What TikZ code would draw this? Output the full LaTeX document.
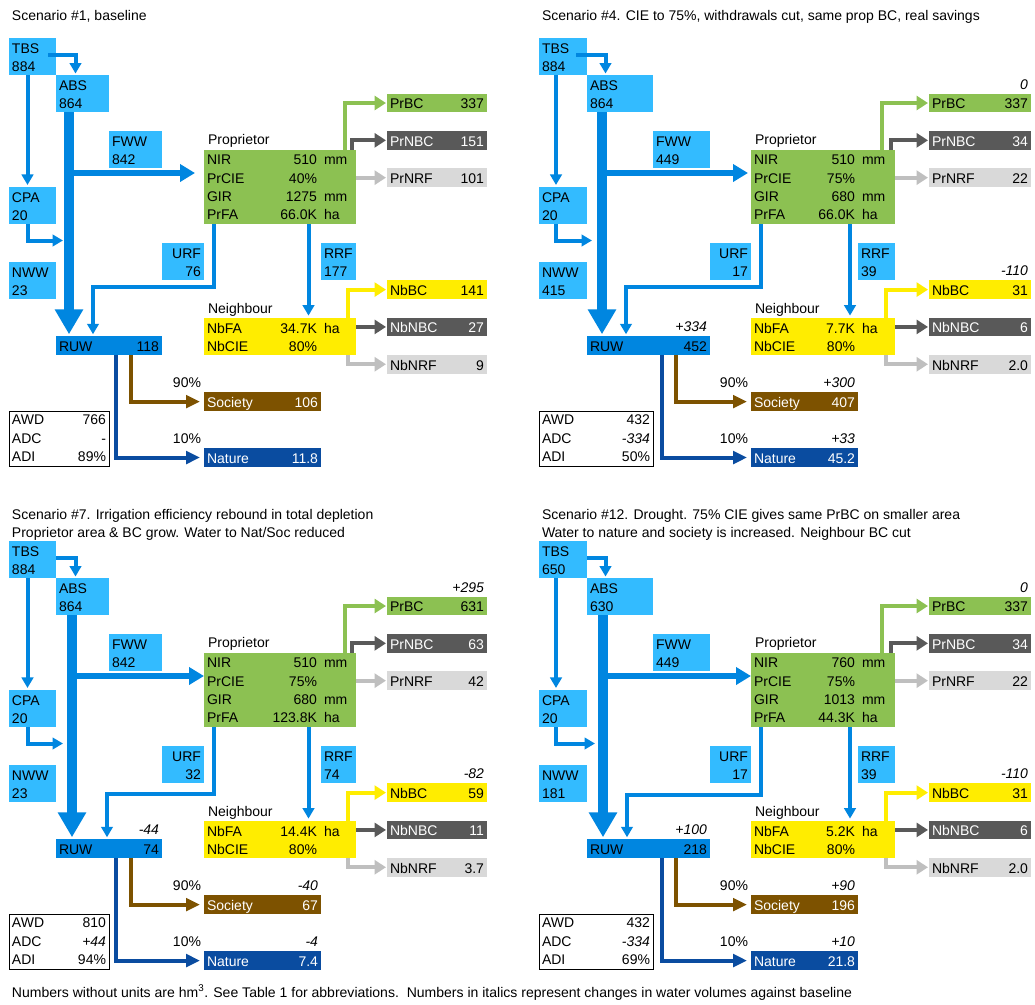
\documentclass[tikz,border=0pt]{standalone}
\usepackage{fontspec}
\setmainfont{Liberation Sans}
\usetikzlibrary{arrows.meta,calc,fit}
\definecolor{lblue}{RGB}{51,187,255}
\definecolor{dblue}{RGB}{0,134,224}
\definecolor{pgreen}{RGB}{140,193,82}
\definecolor{dgray}{RGB}{89,89,89}
\definecolor{lgray}{RGB}{217,217,217}
\definecolor{lgrayA}{RGB}{191,191,191}
\definecolor{nyellow}{RGB}{255,237,0}
\definecolor{socbrown}{RGB}{125,82,0}
\definecolor{natblue}{RGB}{10,76,160}
\newcommand\fsz{\fontsize{14}{16.8}\selectfont}
\newcount\lblno
\def\yo{0}
\pgfmathdeclarefunction{ry}{1}{\pgfmathparse{37.7+18.66*#1+\yo}}
\tikzset{
 bxs/.style={inner sep=0pt,outer sep=0pt},
 txt/.style={inner sep=0pt,outer sep=0pt,font=\fsz},
 thinflow/.style={line width=4pt,draw=dblue,-{Triangle[length=10.5pt,width=11.5pt]}},
 fwwflow/.style={line width=6pt,draw=dblue,-{Triangle[length=15pt,width=17pt]}},
 trunkflow/.style={line width=9.5pt,draw=dblue,-{Triangle[length=25pt,width=27pt]}},
 outflow/.style={line width=4pt,-{Triangle[length=11.5pt,width=14pt]}},
 socflow/.style={line width=4pt,-{Triangle[length=14pt,width=12.5pt]}},
}
\newcommand\bx[6]{\node[bxs,#6,fit={({#2},{ry(#3)}) ({#4},{ry(#5)})}] (#1) {};}
\newcommand\TxtAt[6][]{\global\advance\lblno by 1\relax
  \node[txt,anchor=#2,#1] (lbl\the\lblno) at ($(#3)+(#4,#5)$) {#6};}
\newcommand\TxtL[4][]{\TxtAt[#1]{base west}{#2.north west}{3}{#3}{#4}}
\newcommand\TxtR[4][]{\TxtAt[#1]{base east}{#2.north east}{-3}{#3}{#4}}
\newcommand\layoutL{\def\xA{9}\def\xB{56}\def\xC{109}\def\xE{162}\def\xF{204}\def\xG{321}\def\xH{356}\def\xI{387}\def\xJ{487}%
 \def\xTA{75.5}\def\xTC{27.5}\def\xU{214}\def\xR{308.5}\def\xS{130.5}\def\xN{116}\def\xGr{344.5}\def\xDk{351.5}\def\xY{348}\def\xPv{113}\def\xPu{120}}
\newcommand\layoutR{\def\xA{539}\def\xB{587}\def\xC{653}\def\xE{710}\def\xF{751}\def\xG{858}\def\xH{895}\def\xI{929}\def\xJ{1031}%
 \def\xTA{605.5}\def\xTC{556}\def\xU{760.5}\def\xR{850}\def\xS{675.5}\def\xN{661.5}\def\xGr{882}\def\xDk{891}\def\xY{886}\def\xPv{104}\def\xPu{111}}
\newcommand\chg[2]{\ifx#2\empty\else\TxtR[font=\fsz\itshape]{#1}{-4.5}{#2}\fi}
\newcommand\drawpanel{%
 % boxes
 \bx{\pfx tbs}{\xA}{0}{\xB}{2}{fill=lblue}
 \bx{\pfx abs}{\xB}{2}{\xC}{4}{fill=lblue}
 \bx{\pfx fww}{\xC}{5}{\xE}{7}{fill=lblue}
 \bx{\pfx cpa}{\xA}{8}{\xB}{10}{fill=lblue}
 \bx{\pfx urf}{\xE}{11}{\xF}{13}{fill=lblue}
 \bx{\pfx rrf}{\xG}{11}{\xH}{13}{fill=lblue}
 \bx{\pfx nww}{\xA}{12}{\xB}{14}{fill=lblue}
 \bx{\pfx ruw}{\xB}{16}{\xE}{17}{fill=dblue}
 \bx{\pfx prop}{\xF}{6}{\xH}{10}{fill=pgreen}
 \bx{\pfx nb}{\xF}{15}{\xH}{17}{fill=nyellow}
 \bx{\pfx prbc}{\xI}{3}{\xJ}{4}{fill=pgreen}
 \bx{\pfx prnbc}{\xI}{5}{\xJ}{6}{fill=dgray}
 \bx{\pfx prnrf}{\xI}{7}{\xJ}{8}{fill=lgray}
 \bx{\pfx nbbc}{\xI}{13}{\xJ}{14}{fill=nyellow}
 \bx{\pfx nbnbc}{\xI}{15}{\xJ}{16}{fill=dgray}
 \bx{\pfx nbnrf}{\xI}{17}{\xJ}{18}{fill=lgray}
 \bx{\pfx soc}{\xF}{19}{\xG}{20}{fill=socbrown}
 \bx{\pfx nat}{\xF}{22}{\xG}{23}{fill=natblue}
 \bx{\pfx awd}{\xA}{20}{\xC}{23}{fill=white,draw=black,line width=0.8pt}
 % bend coordinates
 \coordinate (\pfx kTA) at ({\xTA},{\yo+55});
 \coordinate (\pfx kTC) at ({\xTC},{\yo+240.5});
 \coordinate (\pfx kCe) at ({\xCe},{\yo+240.5});
 \coordinate (\pfx kTr) at ({\xTr},{\yo+173});
 \coordinate (\pfx kU) at ({\xU},{\yo+\yU});
 \coordinate (\pfx kUl) at ({\xUl},{\yo+\yU});
 \coordinate (\pfx kR) at ({\xR},{\yo});
 \coordinate (\pfx kS) at ({\xS},{\yo});
 \coordinate (\pfx kN) at ({\xN},{\yo});
 \coordinate (\pfx kG) at ({\xGr},{\yo});
 \coordinate (\pfx kD) at ({\xDk},{\yo});
 \coordinate (\pfx kY) at ({\xY},{\yo});
 % connectors
 \draw[thinflow,shorten >=1.5pt] ([xshift={-\tbsin pt}]\pfx tbs.east |- \pfx kTA) -| (\pfx abs.north -| \pfx kTA);
 \draw[thinflow,shorten >=2pt] (\pfx tbs.south -| \pfx kTC) -- (\pfx cpa.north -| \pfx kTC);
 \draw[thinflow] (\pfx cpa.south -| \pfx kTC) |- (\pfx kCe);
 \draw[trunkflow,shorten >=2pt] (\pfx abs.south -| \pfx kTr) -- (\pfx ruw.north -| \pfx kTr);
 \draw[fwwflow,shorten >=\fwwgap] (\pfx kTr) -- (\pfx prop.west |- \pfx kTr);
 \draw[thinflow,shorten >=2pt] (\pfx prop.south -| \pfx kU) |- (\pfx kUl) -- (\pfx ruw.north -| \pfx kUl);
 \draw[thinflow,shorten >=2pt] (\pfx prop.south -| \pfx kR) -- (\pfx nb.north -| \pfx kR);
 \draw[outflow,draw=pgreen,shorten >=1pt] (\pfx prop.north -| \pfx kG) |- (\pfx prbc.west);
 \draw[outflow,draw=dgray,shorten >=1pt] (\pfx prop.north -| \pfx kD) |- (\pfx prnbc.west);
 \draw[outflow,draw=lgrayA,shorten >=1pt] (\pfx prop.east |- \pfx prnrf.west) -- (\pfx prnrf.west);
 \draw[outflow,draw=nyellow,shorten >=1pt] (\pfx nb.north -| \pfx kY) |- (\pfx nbbc.west);
 \draw[outflow,draw=dgray,shorten >=1pt] (\pfx nb.east |- \pfx nbnbc.west) -- (\pfx nbnbc.west);
 \draw[outflow,draw=lgrayA,shorten >=1pt] (\pfx nb.south -| \pfx kY) |- (\pfx nbnrf.west);
 \draw[socflow,draw=socbrown,shorten >=4pt] (\pfx ruw.south -| \pfx kS) |- (\pfx soc.west);
 \draw[socflow,draw=natblue,shorten >=4pt] (\pfx ruw.south -| \pfx kN) |- (\pfx nat.west);
 % titles
 \node[txt,anchor=base west] (\pfx titleA) at ({\xA+3},{\yo+\tyA}) {\vTitleA};
 \ifx\vTitleB\empty\else\node[txt,anchor=base west] (\pfx titleB) at ({\xA+3},{\yo+34}) {\vTitleB};\fi
 % texts
 \TxtL{\pfx tbs}{15.5}{TBS}\TxtL{\pfx tbs}{33.5}{\vTBS}
 \TxtL{\pfx abs}{15.5}{ABS}\TxtL{\pfx abs}{33.5}{\vABS}
 \TxtL{\pfx fww}{15.5}{FWW}\TxtL{\pfx fww}{33.5}{\vFWW}
 \TxtL{\pfx cpa}{15.5}{CPA}\TxtL{\pfx cpa}{33.5}{\vCPA}
 \TxtL{\pfx nww}{15.5}{NWW}\TxtL{\pfx nww}{33.5}{\vNWW}
 \TxtR{\pfx urf}{15.5}{URF}\TxtR{\pfx urf}{33.5}{\vURF}
 \TxtL{\pfx rrf}{15.5}{RRF}\TxtL{\pfx rrf}{33.5}{\vRRF}
 \TxtL{\pfx ruw}{15.2}{RUW}\TxtR{\pfx ruw}{15.2}{\vRUW}
 \TxtAt{base west}{\pfx prop.north west}{4}{-4.8}{Proprietor}
 \TxtL{\pfx prop}{15.3}{NIR}\TxtL{\pfx prop}{33.5}{PrCIE}\TxtL{\pfx prop}{51.7}{GIR}\TxtL{\pfx prop}{69.9}{PrFA}
 \TxtAt{base east}{\pfx prop.north west}{\xPv}{15.3}{\vNIR}\TxtAt{base west}{\pfx prop.north west}{\xPu}{15.3}{mm}
 \TxtAt{base east}{\pfx prop.north west}{\xPv}{33.5}{\vPrCIE}
 \TxtAt{base east}{\pfx prop.north west}{\xPv}{51.7}{\vGIR}\TxtAt{base west}{\pfx prop.north west}{\xPu}{51.7}{mm}
 \TxtAt{base east}{\pfx prop.north west}{\xPv}{69.9}{\vPrFA}\TxtAt{base west}{\pfx prop.north west}{\xPu}{69.9}{ha}
 \TxtAt{base west}{\pfx nb.north west}{4}{-4.3}{Neighbour}
 \TxtL{\pfx nb}{15.4}{NbFA}\TxtL{\pfx nb}{33.6}{NbCIE}
 \TxtAt{base east}{\pfx nb.north west}{\xPv}{15.4}{\vNbFA}\TxtAt{base west}{\pfx nb.north west}{\xPu}{15.4}{ha}
 \TxtAt{base east}{\pfx nb.north west}{\xPv}{33.6}{\vNbCIE}
 \TxtL{\pfx prbc}{15.2}{PrBC}\TxtR{\pfx prbc}{15.2}{\vPrBC}
 \TxtL[text=white]{\pfx prnbc}{15.2}{PrNBC}\TxtR[text=white]{\pfx prnbc}{15.2}{\vPrNBC}
 \TxtL{\pfx prnrf}{15.2}{PrNRF}\TxtR{\pfx prnrf}{15.2}{\vPrNRF}
 \TxtL{\pfx nbbc}{15.2}{NbBC}\TxtR{\pfx nbbc}{15.2}{\vNbBC}
 \TxtL[text=white]{\pfx nbnbc}{15.2}{NbNBC}\TxtR[text=white]{\pfx nbnbc}{15.2}{\vNbNBC}
 \TxtL{\pfx nbnrf}{15.2}{NbNRF}\TxtR{\pfx nbnrf}{15.2}{\vNbNRF}
 \TxtL[text=white]{\pfx soc}{15.2}{Society}\TxtR[text=white]{\pfx soc}{15.2}{\vSoc}
 \TxtL[text=white]{\pfx nat}{15.2}{Nature}\TxtR[text=white]{\pfx nat}{15.2}{\vNat}
 \TxtAt{base east}{\pfx soc.north west}{-3}{-4.5}{90\%}
 \TxtAt{base east}{\pfx nat.north west}{-3}{-4.5}{10\%}
 \TxtL{\pfx awd}{13.6}{AWD}\TxtR{\pfx awd}{13.6}{\vAWD}
 \TxtL{\pfx awd}{32.2}{ADC}\TxtR{\pfx awd}{32.2}{\vADC}
 \TxtL{\pfx awd}{50.8}{ADI}\TxtR{\pfx awd}{50.8}{\vADI}
 \chg{\pfx prbc}{\cPrBC}\chg{\pfx nbbc}{\cNbBC}\chg{\pfx ruw}{\cRUW}\chg{\pfx soc}{\cSoc}\chg{\pfx nat}{\cNat}
}
\begin{document}
\begin{tikzpicture}[x=1pt,y=-1pt]
\useasboundingbox (0,0) rectangle (1035,1004);
\fill[white] (0,0) rectangle (1035,1004);
% ---------- Scenario 1
\def\pfx{a}\def\yo{0}\layoutL\def\xTr{69}\def\xUl{93}\def\xCe{63}\def\tbsin{8}\def\fwwgap{9pt}\def\yU{287}\def\tyA{20}
\def\vTitleA{Scenario \#1, baseline}\def\vTitleB{}
\def\vTBS{884}\def\vABS{864}\def\vFWW{842}\def\vCPA{20}\def\vNWW{23}\def\vURF{76}\def\vRRF{177}\def\vRUW{118}
\def\vNIR{510}\def\vPrCIE{40\%}\def\vGIR{1275}\def\vPrFA{66.0K}
\def\vPrBC{337}\def\vPrNBC{151}\def\vPrNRF{101}
\def\vNbFA{34.7K}\def\vNbCIE{80\%}\def\vNbBC{141}\def\vNbNBC{27}\def\vNbNRF{9}
\def\vSoc{106}\def\vNat{11.8}\def\vAWD{766}\def\vADC{-}\def\vADI{89\%}
\def\cPrBC{}\def\cNbBC{}\def\cRUW{}\def\cSoc{}\def\cNat{}
\drawpanel
% ---------- Scenario 4
\def\pfx{b}\def\yo{0}\layoutR\def\xTr{602}\def\xUl{626}\def\xCe{592}\def\tbsin{11}\def\fwwgap{3pt}\def\yU{287}\def\tyA{20}
\def\vTitleA{Scenario \#4. CIE to 75\%, withdrawals cut, same prop BC, real savings}\def\vTitleB{}
\def\vTBS{884}\def\vABS{864}\def\vFWW{449}\def\vCPA{20}\def\vNWW{415}\def\vURF{17}\def\vRRF{39}\def\vRUW{452}
\def\vNIR{510}\def\vPrCIE{75\%}\def\vGIR{680}\def\vPrFA{66.0K}
\def\vPrBC{337}\def\vPrNBC{34}\def\vPrNRF{22}
\def\vNbFA{7.7K}\def\vNbCIE{80\%}\def\vNbBC{31}\def\vNbNBC{6}\def\vNbNRF{2.0}
\def\vSoc{407}\def\vNat{45.2}\def\vAWD{432}\def\vADC{\textit{-334}}\def\vADI{50\%}
\def\cPrBC{0}\def\cNbBC{-110}\def\cRUW{+334}\def\cSoc{+300}\def\cNat{+33}
\drawpanel
% ---------- Scenario 7
\def\pfx{c}\def\yo{503}\layoutL\def\xTr{72}\def\xUl{107}\def\xCe{63}\def\tbsin{0}\def\fwwgap{0pt}\def\yU{291}\def\tyA{16}
\def\vTitleA{Scenario \#7. Irrigation efficiency rebound in total depletion}\def\vTitleB{Proprietor area \& BC grow. Water to Nat/Soc reduced}
\def\vTBS{884}\def\vABS{864}\def\vFWW{842}\def\vCPA{20}\def\vNWW{23}\def\vURF{32}\def\vRRF{74}\def\vRUW{74}
\def\vNIR{510}\def\vPrCIE{75\%}\def\vGIR{680}\def\vPrFA{123.8K}
\def\vPrBC{631}\def\vPrNBC{63}\def\vPrNRF{42}
\def\vNbFA{14.4K}\def\vNbCIE{80\%}\def\vNbBC{59}\def\vNbNBC{11}\def\vNbNRF{3.7}
\def\vSoc{67}\def\vNat{7.4}\def\vAWD{810}\def\vADC{\textit{+44}}\def\vADI{94\%}
\def\cPrBC{+295}\def\cNbBC{-82}\def\cRUW{-44}\def\cSoc{-40}\def\cNat{-4}
\drawpanel
% ---------- Scenario 12
\def\pfx{d}\def\yo{503}\layoutR\def\xTr{603}\def\xUl{627}\def\xCe{595}\def\tbsin{0}\def\fwwgap{0pt}\def\yU{291.5}\def\tyA{16}
\def\vTitleA{Scenario \#12. Drought. 75\% CIE gives same PrBC on smaller area}\def\vTitleB{Water to nature and society is increased. Neighbour BC cut}
\def\vTBS{650}\def\vABS{630}\def\vFWW{449}\def\vCPA{20}\def\vNWW{181}\def\vURF{17}\def\vRRF{39}\def\vRUW{218}
\def\vNIR{760}\def\vPrCIE{75\%}\def\vGIR{1013}\def\vPrFA{44.3K}
\def\vPrBC{337}\def\vPrNBC{34}\def\vPrNRF{22}
\def\vNbFA{5.2K}\def\vNbCIE{80\%}\def\vNbBC{31}\def\vNbNBC{6}\def\vNbNRF{2.0}
\def\vSoc{196}\def\vNat{21.8}\def\vAWD{432}\def\vADC{\textit{-334}}\def\vADI{69\%}
\def\cPrBC{0}\def\cNbBC{-110}\def\cRUW{+100}\def\cSoc{+90}\def\cNat{+10}
\drawpanel
% ---------- footer
\node[txt,anchor=base west] (footer) at (12,997) {\resizebox{840pt}{\height}{Numbers without units are hm\textsuperscript{3}. See Table 1 for abbreviations.\ \ Numbers in italics represent changes in water volumes against baseline}};
\end{tikzpicture}
\end{document}
